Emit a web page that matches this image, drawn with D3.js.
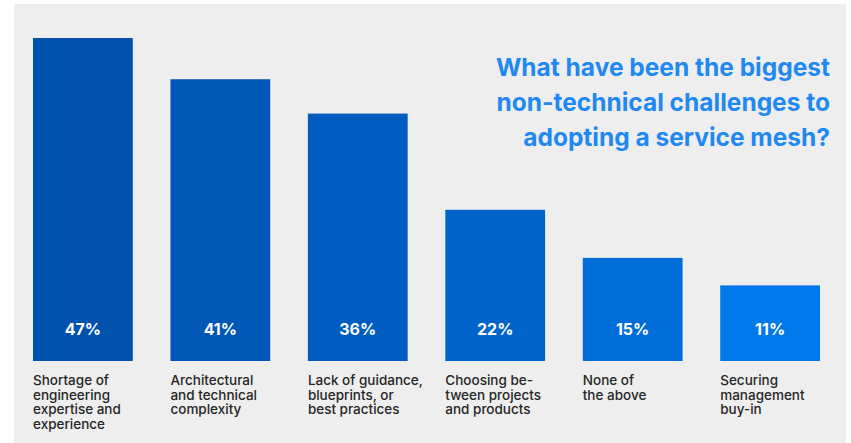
<!DOCTYPE html>
<html>
<head>
<meta charset="utf-8">
<script src="https://cdn.jsdelivr.net/npm/d3@7"></script>
<style>
  body { margin: 0; background: #fff; }
  svg { display: block; }
</style>
</head>
<body>
<div id="chart"></div>
<script>
// values
const categories = [
    ["Shortage of", "engineering", "expertise and", "experience"],
    ["Architectural", "and technical", "complexity"],
    ["Lack of guidance,", "blueprints, or", "best practices"],
    ["Choosing be-", "tween projects", "and products"],
    ["None of", "the above"],
    ["Securing", "management", "buy-in"]
];
const values = [47, 41, 36, 22, 15, 11];
const barColors = ["#0052ad", "#0057b6", "#005dbf", "#0064ca", "#006dd9", "#0079ea"];
const titleLines = [
    "What have been the biggest",
    "non-technical challenges to",
    "adopting a service mesh?"
];

const width = 851, height = 443;

const svg = d3.select("#chart").append("svg")
    .attr("width", width)
    .attr("height", height);

// grey panel
svg.append("rect")
    .attr("x", 14).attr("y", 4)
    .attr("width", 832).attr("height", 439)
    .attr("fill", "#eeeeee");

const x = d3.scaleBand()
    .domain(d3.range(values.length))
    .range([33, 820])
    .paddingInner(0.274)
    .paddingOuter(0);

const y = d3.scaleLinear()
    .domain([0, 47])
    .range([361, 38]);

const bars = svg.selectAll("g.bar")
    .data(values)
    .enter()
    .append("g")
    .attr("class", "bar");

bars.append("rect")
    .attr("x", (d, i) => x(i))
    .attr("y", d => y(d))
    .attr("width", x.bandwidth())
    .attr("height", d => y(0) - y(d))
    .attr("fill", (d, i) => barColors[i]);

bars.append("text")
    .attr("x", (d, i) => x(i) + x.bandwidth() / 2)
    .attr("y", 335)
    .attr("text-anchor", "middle")
    .style("font-family", "Inter, 'Noto Sans', sans-serif")
    .style("font-weight", 700)
    .style("font-size", "16px")
    .style("fill", "#ffffff")
    .text(d => d + "%");

// category labels under the bars
bars.append("text")
    .attr("x", (d, i) => x(i))
    .attr("y", 385)
    .style("font-family", "Inter, 'Noto Sans', sans-serif")
    .style("font-weight", 500)
    .style("font-size", "13.5px")
    .style("fill", "#262626")
    .each(function(d, i) {
        d3.select(this).selectAll("tspan")
            .data(categories[i])
            .enter()
            .append("tspan")
            .attr("x", x(i))
            .attr("dy", (t, j) => j === 0 ? 0 : 14.5)
            .text(t => t);
    });

// title, right aligned
svg.append("text")
    .attr("x", 830)
    .attr("y", 76)
    .attr("text-anchor", "end")
    .style("font-family", "Inter, 'Noto Sans', sans-serif")
    .style("font-weight", 700)
    .style("font-size", "24.5px")
    .style("fill", "#1f88f2")
    .selectAll("tspan")
    .data(titleLines)
    .enter()
    .append("tspan")
    .attr("x", 830)
    .attr("dy", (t, j) => j === 0 ? 0 : 35)
    .text(t => t);
</script>
</body>
</html>
